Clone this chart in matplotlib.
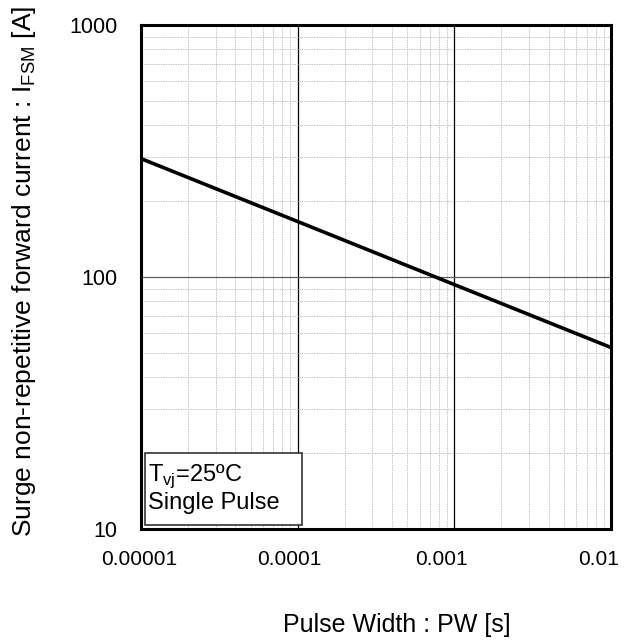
import matplotlib
matplotlib.use("Agg")
from matplotlib import pyplot as plt
import matplotlib.transforms as mtransforms
from matplotlib.patches import Rectangle
from matplotlib.ticker import FixedLocator, NullFormatter, LogLocator

plt.rcParams['font.family'] = ['Liberation Sans', 'DejaVu Sans']

pulse_width = [1e-5, 1e-4, 1e-3, 1e-2]
surge_current = [295, 166, 93.3, 52.5]

x_ticks = [1e-5, 1e-4, 1e-3, 1e-2]
x_tick_labels = ["0.00001", "0.0001", "0.001", "0.01"]
y_ticks = [10, 100, 1000]
y_tick_labels = ["10", "100", "1000"]

fig = plt.figure(figsize=(6.30, 6.43), dpi=100)
ax = fig.add_axes([141 / 630, 1 - 529 / 643, 470 / 630, 504 / 643])

ax.plot(pulse_width, surge_current, color="black", linewidth=2.6, zorder=5)

ax.set_xscale("log")
ax.set_yscale("log")
ax.set_xlim(1e-5, 1e-2)
ax.set_ylim(10, 1000)

ax.xaxis.set_major_locator(FixedLocator(x_ticks))
ax.yaxis.set_major_locator(FixedLocator(y_ticks))
ax.set_xticklabels(x_tick_labels)
ax.set_yticklabels(y_tick_labels)
ax.xaxis.set_minor_locator(LogLocator(base=10, subs=range(2, 10)))
ax.yaxis.set_minor_locator(LogLocator(base=10, subs=range(2, 10)))
ax.xaxis.set_minor_formatter(NullFormatter())
ax.yaxis.set_minor_formatter(NullFormatter())

ax.tick_params(which="both", length=0, colors="black")
ax.tick_params(axis="x", labelsize=15, pad=15)
ax.tick_params(axis="y", labelsize=15.5, pad=17)

# the original's x labels drift a little to the left of their ticks
for lbl, dx in zip(ax.get_xticklabels(), [-2, -8, -13, -12]):
    lbl.set_transform(lbl.get_transform() + mtransforms.ScaledTranslation(dx / 100, 0, fig.dpi_scale_trans))

ax.grid(which="minor", color="#c4c4c4", linestyle=(0, (1.5, 1)), linewidth=0.7)
ax.grid(which="major", axis="x", color="black", linestyle="-", linewidth=0.9)
ax.grid(which="major", axis="y", color="#606060", linestyle="-", linewidth=0.9)

for spine in ax.spines.values():
    spine.set_linewidth(2.2)
    spine.set_color("black")

# axis titles placed like the original (x title sits right of centre)
fig.text(397 / 630, 1 - 625 / 643, "Pulse Width : PW [s]", fontsize=18,
         ha="center", va="center")
fig.text(24 / 630, 1 - 271 / 643,
         "Surge non-repetitive forward current : I$_{\\mathregular{FSM}}$ [A]",
         fontsize=19, ha="center", va="center", rotation=90)

# condition box
ax.add_patch(Rectangle((0.0085, 0.008), 0.334, 0.143, transform=ax.transAxes,
                       facecolor="white", edgecolor="#333333", linewidth=1.2, zorder=6))
ax.text(0.015, 0.03, "T$_{\\mathregular{vj}}$=25ºC\nSingle Pulse", transform=ax.transAxes,
        fontsize=17, va="bottom", ha="left", linespacing=1.1, zorder=7)

fig.savefig("out.png", dpi=100)
